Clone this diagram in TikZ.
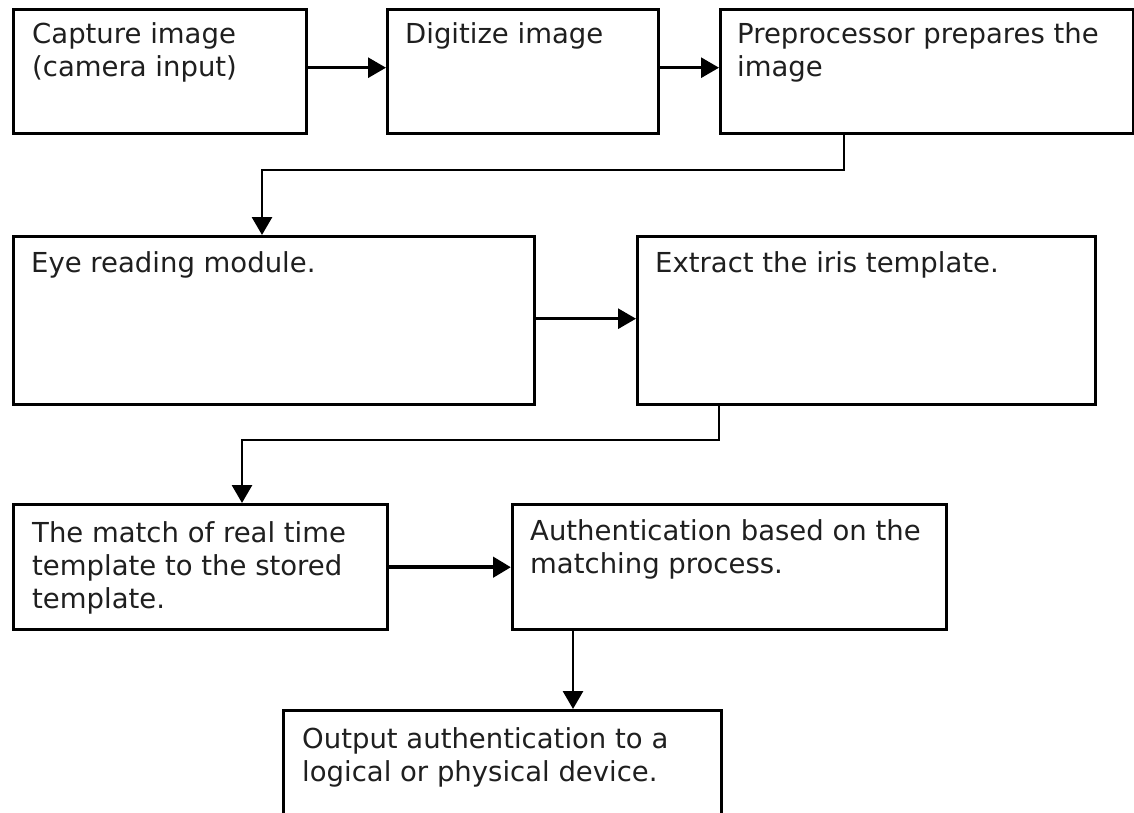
\documentclass[tikz,border=0pt]{standalone}
\usepackage{fontspec}
\setmainfont{DejaVu Sans}
\usetikzlibrary{arrows.meta}
\begin{document}
\begin{tikzpicture}[x=1pt,y=-1pt,
  boxnode/.style={draw=black, line width=3.4pt, rectangle, inner sep=0pt, anchor=north west},
  txt/.style={anchor=base west, inner sep=0pt, text=black!88, font=\fontsize{27.5}{33}\selectfont},
  arr/.style={line width=2.9pt, -{Triangle[length=18pt,width=20pt]}}]
\useasboundingbox (0,0) rectangle (1134,813);
\clip (0,0) rectangle (1134,813);
\fill[white] (0,0) rectangle (1134,813);
% boxes
\node[boxnode, minimum width=293pt, minimum height=124pt] (cap) at (12,8) {};
\node[boxnode, minimum width=271pt, minimum height=124pt] (dig) at (386,8) {};
\node[boxnode, minimum width=413pt, minimum height=124pt] (pre) at (719,8) {};
\node[boxnode, minimum width=521pt, minimum height=168pt] (eye) at (12,235) {};
\node[boxnode, minimum width=458pt, minimum height=168pt] (ext) at (636,235) {};
\node[boxnode, minimum width=374pt, minimum height=125pt] (match) at (12,503) {};
\node[boxnode, minimum width=434pt, minimum height=125pt] (auth) at (511,503) {};
\node[boxnode, minimum width=438pt, minimum height=140pt] (out) at (282,709) {};
% texts
\node[txt] (tcap) at (32,44) {\parbox[t]{280pt}{\raggedright Capture image\\(camera input)}};
\node[txt] (tdig) at (405,44) {\parbox[t]{250pt}{\raggedright Digitize image}};
\node[txt] (tpre) at (737,44) {\parbox[t]{395pt}{\raggedright Preprocessor prepares the\\image}};
\node[txt] (teye) at (31,272) {\parbox[t]{490pt}{\raggedright Eye reading module.}};
\node[txt] (text) at (655,272) {\parbox[t]{430pt}{\raggedright Extract the iris template.}};
\node[txt] (tmatch) at (32,542) {\parbox[t]{350pt}{\raggedright The match of real time\\template to the stored\\template.}};
\node[txt] (tauth) at (530,540) {\parbox[t]{420pt}{\raggedright Authentication based on the\\matching process.}};
\node[txt] (tout) at (302,748) {\parbox[t]{410pt}{\raggedright Output authentication to a\\logical or physical device.}};
% bend coordinates
\coordinate (b1) at (844,170);
\coordinate (b2) at (262,170);
\coordinate (b3) at (719,440);
\coordinate (b4) at (242,440);
\coordinate (b5) at (573,600);
% connectors
\draw[arr] ([yshift=4pt]cap.east) -- ([yshift=4pt]cap.east -| dig.west);
\draw[arr] ([yshift=4pt]dig.east) -- ([yshift=4pt]dig.east -| pre.west);
\draw[arr] (b1 |- pre.south) -- (b1) -- (b2) -- (b2 |- eye.north);
\draw[arr] ([yshift=2pt]eye.east) -- ([yshift=2pt]eye.east -| ext.west);
\draw[arr] (b3 |- ext.south) -- (b3) -- (b4) -- (b4 |- match.north);
\draw[arr, line width=4.5pt] (match.east) -- (match.east -| auth.west);
\draw[arr] (b5 |- auth.south) -- (b5 |- out.north);
\end{tikzpicture}
\end{document}
